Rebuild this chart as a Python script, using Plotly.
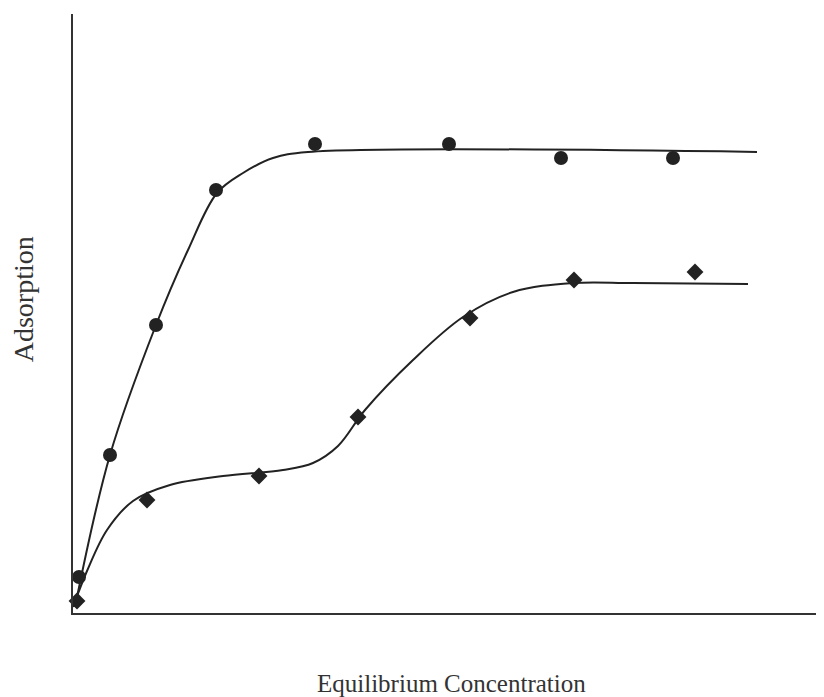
import plotly.graph_objects as go

# Measured data (arbitrary units)
circle_x = [6, 37, 83, 143, 242, 376, 488, 600]
circle_y = [36, 158, 288, 423, 469, 469, 455, 455]

diamond_x = [4, 74, 186, 285, 397, 501, 622]
diamond_y = [12, 113, 137, 196, 295, 333, 341]

# Fitted curves (hand-drawn in original)
curve1_x = [2, 37, 83, 115, 144, 170, 200, 235, 684]
curve1_y = [6, 158, 288, 363, 420, 440, 455, 461, 461]

curve2_x = [0, 14, 34, 60, 97, 150, 210, 240, 265, 292, 340, 390, 440, 500, 560, 675]
curve2_y = [6, 42, 83, 112, 128, 137, 143, 150, 167, 203, 253, 296, 321, 330, 330, 329]

ink = "#222222"

fig = go.Figure()
fig.add_trace(go.Scatter(x=curve1_x, y=curve1_y, mode="lines",
                         line=dict(color=ink, width=2, shape="spline", smoothing=1.0),
                         showlegend=False, hoverinfo="skip"))
fig.add_trace(go.Scatter(x=curve2_x, y=curve2_y, mode="lines",
                         line=dict(color=ink, width=2, shape="spline", smoothing=1.0),
                         showlegend=False, hoverinfo="skip"))
fig.add_trace(go.Scatter(x=circle_x, y=circle_y, mode="markers",
                         marker=dict(symbol="circle", size=14, color=ink),
                         showlegend=False, cliponaxis=False))
fig.add_trace(go.Scatter(x=diamond_x, y=diamond_y, mode="markers",
                         marker=dict(symbol="diamond", size=13, color=ink),
                         showlegend=False, cliponaxis=False))

axis_common = dict(showgrid=False, zeroline=False, showticklabels=False, ticks="",
                   showline=True, linecolor="#333333", linewidth=2)
fig.update_xaxes(range=[0, 749], **axis_common)
fig.update_yaxes(range=[0, 599], **axis_common)

fig.update_layout(
    width=824, height=697,
    margin=dict(l=65, r=10, t=6, b=92),
    plot_bgcolor="white", paper_bgcolor="white",
    font=dict(family="Liberation Serif, Times New Roman, serif", color="#333333"),
    annotations=[
        dict(text="Equilibrium Concentration", xref="paper", yref="paper",
             x=0.506, y=-0.117, xanchor="center", yanchor="middle",
             showarrow=False, font=dict(size=25)),
        dict(text="Adsorption", xref="paper", yref="paper",
             x=-0.066, y=0.523, xanchor="center", yanchor="middle",
             showarrow=False, textangle=-90, font=dict(size=28)),
    ],
)

fig.write_html("out.html")
